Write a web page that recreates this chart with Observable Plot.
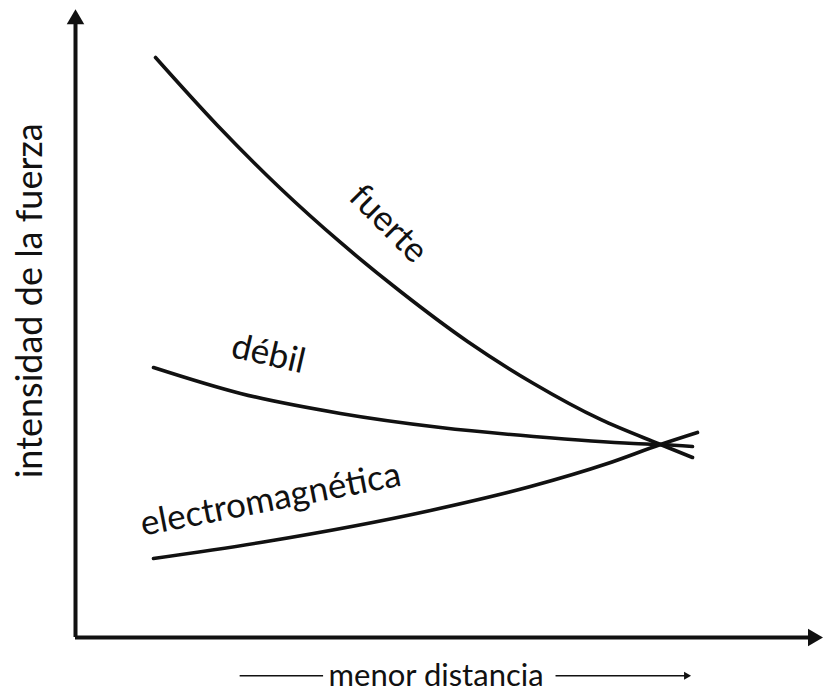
<!DOCTYPE html>
<html><head><meta charset="utf-8">
<script src="https://cdn.jsdelivr.net/npm/d3@7"></script>
<script src="https://cdn.jsdelivr.net/npm/@observablehq/plot@0.6"></script>
<style>body{margin:0;background:#fff}</style>
</head><body><div id="chart"></div>
<script>
// distancia (arbitrary units, increasing = menor distancia) and intensidad
const fuerteX = [1.074, 1.906, 2.752, 3.557, 4.362, 5.262, 6.148, 7.047, 7.852, 8.282];
const fuerteY = [9.250, 8.166, 7.161, 6.300, 5.518, 4.721, 4.051, 3.477, 3.078, 2.871];
const debilX = [1.047, 2.215, 3.557, 4.899, 6.148, 7.490, 7.852, 8.282];
const debilY = [4.306, 3.892, 3.573, 3.349, 3.206, 3.094, 3.078, 3.046];
const emX = [1.047, 2.523, 4.765, 6.107, 7.141, 7.852, 8.349];
const emY = [1.260, 1.523, 2.026, 2.408, 2.775, 3.078, 3.270];

const curveNames = ["fuerte", "débil", "electromagnética"];
const xLabel = "menor distancia";
const yLabel = "intensidad de la fuerza";

const toRows = (xs, ys, name) => xs.map((x, i) => ({x, y: ys[i], name}));
const rows = [
  ...toRows(fuerteX, fuerteY, curveNames[0]),
  ...toRows(debilX, debilY, curveNames[1]),
  ...toRows(emX, emY, curveNames[2])
];

const labels = [
  {x: 4.2, y: 6.6, text: curveNames[0], rotate: 45},
  {x: 2.59, y: 4.52, text: curveNames[1], rotate: 13},
  {x: 2.62, y: 2.2, text: curveNames[2], rotate: -11}
];

const ink = "#111";
const chart = Plot.plot({
  width: 823, height: 692,
  marginLeft: 75, marginRight: 3, marginTop: 10, marginBottom: 55,
  x: {domain: [0, 10], axis: null},
  y: {domain: [0, 10], axis: null},
  style: {fontFamily: "Lato, 'Open Sans', sans-serif", background: "#fff"},
  marks: [
    Plot.ruleY([0], {x1: 0, x2: 9.9, stroke: ink, strokeWidth: 4}),
    Plot.ruleX([0], {y1: 0, y2: 9.86, stroke: ink, strokeWidth: 4}),
    Plot.dot([{x: 0, y: 9.86}], {x: "x", y: "y", symbol: "triangle", r: 6.5, fill: ink, stroke: "none"}),
    Plot.dot([{x: 9.9, y: 0}], {x: "x", y: "y", symbol: "triangle", r: 6.5, fill: ink, stroke: "none", rotate: 90}),
    Plot.line(rows, {x: "x", y: "y", z: "name", curve: "monotone-x", stroke: ink, strokeWidth: 3.6}),
    Plot.text(labels, {x: "x", y: "y", text: "text", rotate: "rotate", fontSize: 35, fill: ink, textAnchor: "middle", lineAnchor: "middle"}),
    Plot.text([yLabel], {x: -0.6, y: 5.37, text: d => d, rotate: -90, fontSize: 36, fill: ink, textAnchor: "middle", lineAnchor: "middle"}),
    Plot.text([xLabel], {x: 4.84, y: -0.61, text: d => d, fontSize: 31, fill: ink, textAnchor: "middle", lineAnchor: "middle"}),
    Plot.ruleY([-0.61], {x1: 2.21, x2: 3.33, stroke: ink, strokeWidth: 1.6}),
    Plot.ruleY([-0.61], {x1: 6.45, x2: 8.2, stroke: ink, strokeWidth: 1.6}),
    Plot.dot([{x: 8.2, y: -0.61}], {x: "x", y: "y", symbol: "triangle", r: 3, fill: ink, stroke: "none", rotate: 90})
  ]
});
document.getElementById("chart").append(chart);
</script>
</body></html>
